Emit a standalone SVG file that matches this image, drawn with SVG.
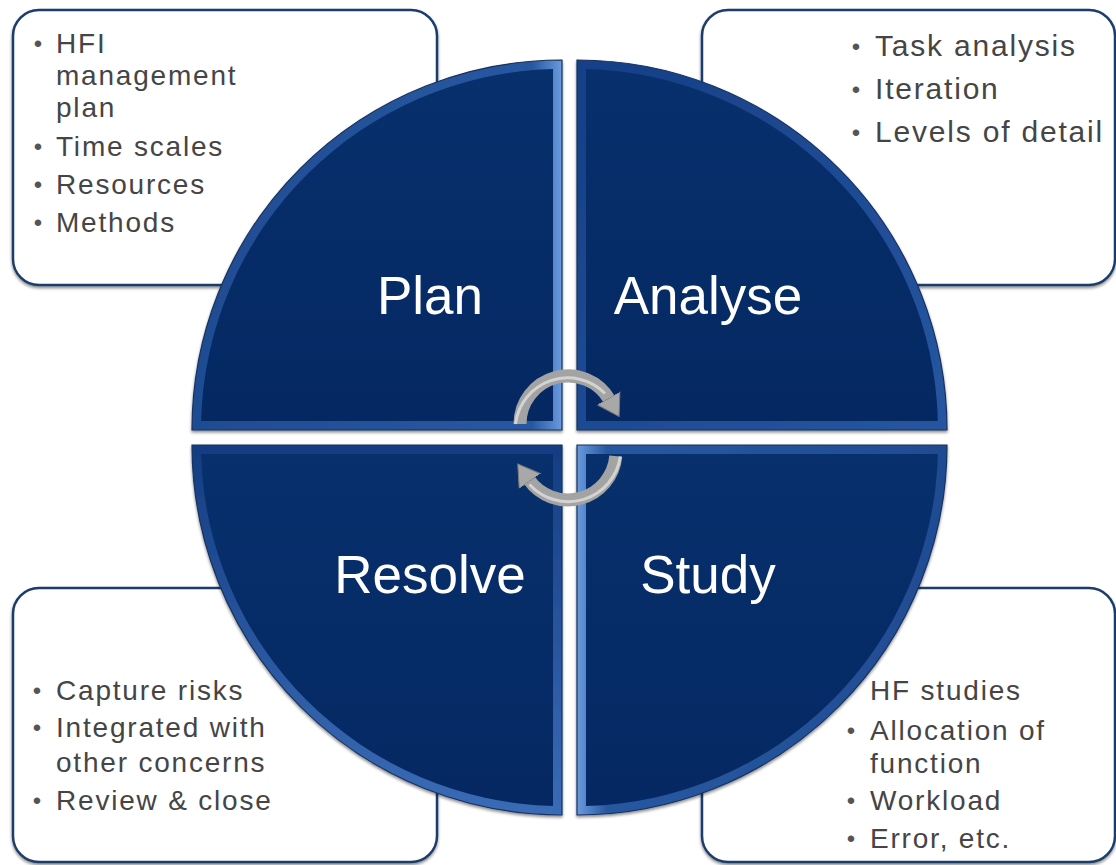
<svg xmlns="http://www.w3.org/2000/svg" width="1116" height="865" viewBox="0 0 1116 865">
  <style>
    .box { fill: #ffffff; stroke: #1d3d6b; stroke-width: 2.5; }
    .body { font-family: "Liberation Sans", Arial, sans-serif; font-size: 28px; fill: #454545; letter-spacing: 1.8px; }
    .body30 { font-size: 30px; }
    .bul { font-family: "Liberation Sans", Arial, sans-serif; font-size: 24px; fill: #555555; text-anchor: middle; }
    .title { font-family: "Liberation Sans", Arial, sans-serif; font-size: 53px; fill: #ffffff; text-anchor: middle; }
    .core { fill: url(#coreGrad); }
    .rim { stroke: #17325e; stroke-width: 1.2; }
    .arc { fill: none; stroke: #a3a3a3; stroke-width: 13; }
    .arcHi { fill: none; stroke: #d3d3d3; stroke-width: 3; }
  </style>
  <defs>
    <filter id="shadow" x="-10%" y="-10%" width="120%" height="120%">
      <feDropShadow dx="0" dy="2" stdDeviation="1.5" flood-color="#000000" flood-opacity="0.45"/>
    </filter>
    <linearGradient id="coreGrad" x1="0" y1="0" x2="0" y2="1">
      <stop offset="0" stop-color="#07306c"/>
      <stop offset="1" stop-color="#052862"/>
    </linearGradient>
    <linearGradient id="bevPlan" x1="0" y1="0" x2="1" y2="0">
      <stop offset="0" stop-color="#1f4c92"/>
      <stop offset="0.92" stop-color="#2858a0"/>
      <stop offset="1" stop-color="#6a9ade"/>
    </linearGradient>
    <linearGradient id="bevAnalyse" x1="0" y1="0" x2="1" y2="1">
      <stop offset="0" stop-color="#163f86"/>
      <stop offset="1" stop-color="#2656a0"/>
    </linearGradient>
    <linearGradient id="bevResolve" x1="0" y1="0" x2="0" y2="1">
      <stop offset="0" stop-color="#143d82"/>
      <stop offset="1" stop-color="#3a6bb6"/>
    </linearGradient>
    <linearGradient id="bevStudy" x1="0" y1="0" x2="1" y2="0">
      <stop offset="0" stop-color="#6a9ade"/>
      <stop offset="0.08" stop-color="#2858a0"/>
      <stop offset="1" stop-color="#1f4c92"/>
    </linearGradient>
    <marker id="head" viewBox="0 0 22 28" markerUnits="userSpaceOnUse" markerWidth="22" markerHeight="28" refX="2" refY="14" orient="auto">
      <path d="M0,1 L21,14 L0,27 Z" fill="#a8a8a8" stroke="#7c7c7c" stroke-width="1"/>
    </marker>
  </defs>

  <rect x="0" y="0" width="1116" height="865" fill="#ffffff"/>

  <!-- note boxes -->
  <g id="plan-notes">
    <rect class="box" x="13" y="10" width="424" height="275" rx="26" filter="url(#shadow)"/>
    <text class="bul" x="38" y="52">•</text>
    <text class="body" x="56" y="53">HFI</text>
    <text class="body" x="56" y="85">management</text>
    <text class="body" x="56" y="117">plan</text>
    <text class="bul" x="38" y="155">•</text>
    <text class="body" x="56" y="156">Time scales</text>
    <text class="bul" x="38" y="193">•</text>
    <text class="body" x="56" y="194">Resources</text>
    <text class="bul" x="38" y="231">•</text>
    <text class="body" x="56" y="232">Methods</text>
  </g>

  <g id="analyse-notes">
    <rect class="box" x="702" y="10" width="413" height="275" rx="26" filter="url(#shadow)"/>
    <text class="bul" x="856" y="55">•</text>
    <text class="body body30" x="875" y="56">Task analysis</text>
    <text class="bul" x="856" y="98">•</text>
    <text class="body body30" x="875" y="99">Iteration</text>
    <text class="bul" x="856" y="141">•</text>
    <text class="body body30" x="875" y="142">Levels of detail</text>
  </g>

  <g id="resolve-notes">
    <rect class="box" x="13" y="588" width="424" height="274" rx="26" filter="url(#shadow)"/>
    <text class="bul" x="37" y="699">•</text>
    <text class="body" x="56" y="700">Capture risks</text>
    <text class="bul" x="37" y="736">•</text>
    <text class="body" x="56" y="737">Integrated with</text>
    <text class="body" x="56" y="772">other concerns</text>
    <text class="bul" x="37" y="809">•</text>
    <text class="body" x="56" y="810">Review &amp; close</text>
  </g>

  <g id="study-notes">
    <rect class="box" x="702" y="588" width="413" height="274" rx="26" filter="url(#shadow)"/>
    <text class="body" x="870" y="700">HF studies</text>
    <text class="bul" x="851" y="739">•</text>
    <text class="body" x="870" y="740">Allocation of</text>
    <text class="body" x="870" y="773">function</text>
    <text class="bul" x="851" y="809">•</text>
    <text class="body" x="870" y="810">Workload</text>
    <text class="bul" x="851" y="847">•</text>
    <text class="body" x="870" y="848">Error, etc.</text>
  </g>

  <!-- quadrants -->
  <g id="plan">
    <path class="rim" d="M 562 430 L 562 60 A 370 370 0 0 0 192 430 Z" fill="url(#bevPlan)" filter="url(#shadow)"/>
    <path class="core" d="M 553 421 L 553 69.12 A 361 361 0 0 0 201.12 421 Z"/>
    <text class="title" x="430" y="314">Plan</text>
  </g>

  <g id="analyse">
    <path class="rim" d="M 577 430 L 577 60 A 370 370 0 0 1 947 430 Z" fill="url(#bevAnalyse)" filter="url(#shadow)"/>
    <path class="core" d="M 586 421 L 586 69.12 A 361 361 0 0 1 937.88 421 Z"/>
    <text class="title" x="708" y="314">Analyse</text>
  </g>

  <g id="resolve">
    <path class="rim" d="M 562 445 L 192 445 A 370 370 0 0 0 562 815 Z" fill="url(#bevResolve)" filter="url(#shadow)"/>
    <path class="core" d="M 553 454 L 201.12 454 A 361 361 0 0 0 553 805.88 Z"/>
    <text class="title" x="430" y="593">Resolve</text>
  </g>

  <g id="study">
    <path class="rim" d="M 577 445 L 947 445 A 370 370 0 0 1 577 815 Z" fill="url(#bevStudy)" filter="url(#shadow)"/>
    <path class="core" d="M 586 454 L 937.88 454 A 361 361 0 0 1 586 805.88 Z"/>
    <text class="title" x="708" y="593">Study</text>
  </g>

  <!-- connectors: cycle arrows -->
  <g id="connectors">
    <path class="arc" d="M 520 424 A 48 48 0 0 1 609.6 400" marker-end="url(#head)"/>
    <path class="arcHi" d="M 515.5 424 A 52.5 52.5 0 0 1 605 393.5"/>
    <path class="arc" d="M 615.8 456.2 A 48 48 0 0 1 528.7 479.5" marker-end="url(#head)"/>
    <path class="arcHi" d="M 620.3 456.5 A 52.5 52.5 0 0 1 529.5 484.5"/>
  </g>
</svg>
